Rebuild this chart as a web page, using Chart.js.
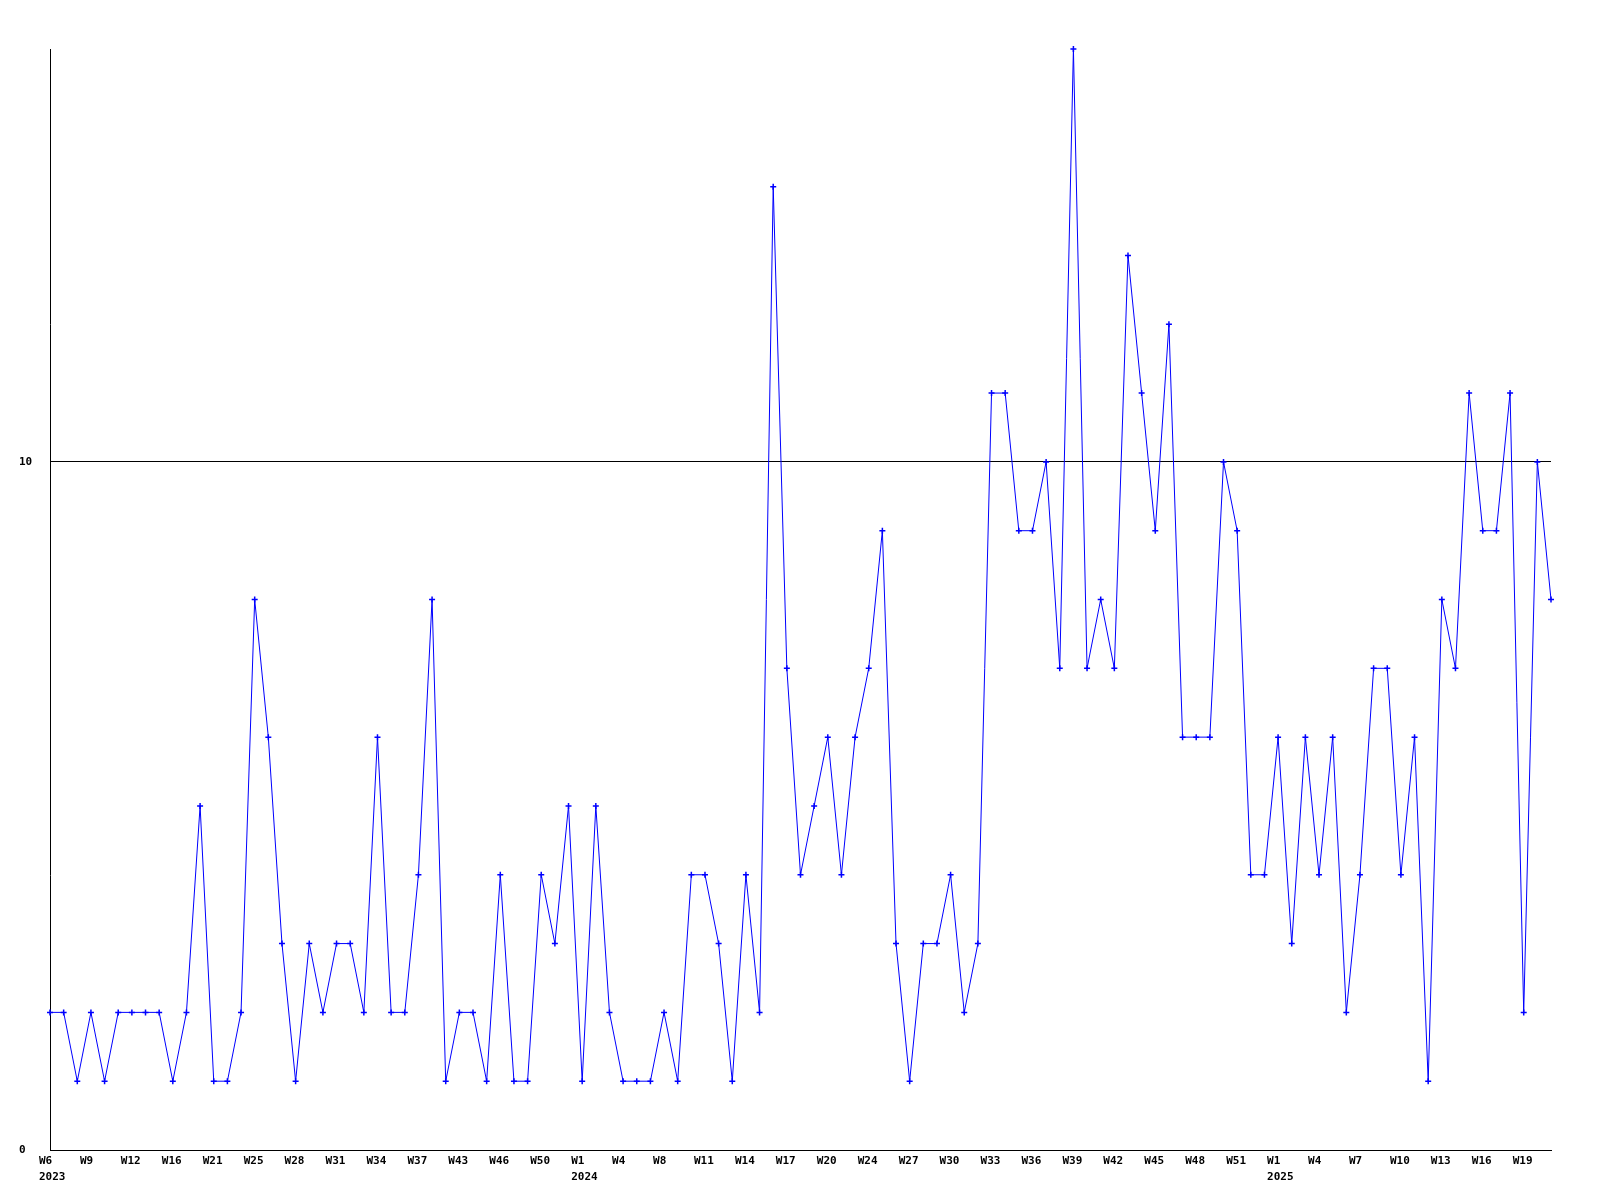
<!DOCTYPE html>
<html>
<head>
<meta charset="utf-8">
<script src="https://cdn.jsdelivr.net/npm/chart.js@4/dist/chart.umd.min.js"></script>
<style>
  body { margin: 0; background: #fff; }
  #wrap { width: 1600px; height: 1200px; }
</style>
</head>
<body>
<div id="wrap"><canvas id="weekChart" width="1600" height="1200"></canvas></div>
<script>
// valores semanais (um ponto por semana registrada)
const values = [
  2, 2, 1, 2, 1, 2, 2, 2, 2, 1, 2, 5, 1, 1, 2, 8, 6, 3, 1, 3,
  2, 3, 3, 2, 6, 2, 2, 4, 8, 1, 2, 2, 1, 4, 1, 1, 4, 3, 5, 1,
  5, 2, 1, 1, 1, 2, 1, 4, 4, 3, 1, 4, 2, 14, 7, 4, 5, 6, 4, 6,
  7, 9, 3, 1, 3, 3, 4, 2, 3, 11, 11, 9, 9, 10, 7, 16, 7, 8, 7, 13,
  11, 9, 12, 6, 6, 6, 10, 9, 4, 4, 6, 3, 6, 4, 6, 2, 4, 7, 7, 4,
  6, 1, 8, 7, 11, 9, 9, 11, 2, 10, 8
];

// rótulos do eixo X: um a cada 3 pontos
const weekTicks = [
  'W6', 'W9', 'W12', 'W16', 'W21', 'W25', 'W28', 'W31', 'W34', 'W37', 'W43', 'W46', 'W50',
  'W1', 'W4', 'W8', 'W11', 'W14', 'W17', 'W20', 'W24', 'W27', 'W30', 'W33', 'W36', 'W39',
  'W42', 'W45', 'W48', 'W51',
  'W1', 'W4', 'W7', 'W10', 'W13', 'W16', 'W19'
];
const yearTicks = [
  '2023', '', '', '', '', '', '', '', '', '', '', '', '',
  '2024', '', '', '', '', '', '', '', '', '', '', '', '',
  '', '', '', '',
  '2025', '', '', '', '', '', ''
];
const tickEvery = 3;
const yTicks = [0, 10];

const fontMono = { family: '"DejaVu Sans Mono", "Liberation Mono", monospace', size: 11, weight: 'bold', lineHeight: 1.45 };

const ctx = document.getElementById('weekChart').getContext('2d');
new Chart(ctx, {
  type: 'line',
  data: {
    labels: values.map((v, i) => i),
    datasets: [{
      data: values,
      borderColor: '#0000ff',
      backgroundColor: '#0000ff',
      borderWidth: 1,
      tension: 0,
      pointStyle: 'cross',
      pointRadius: 3,
      pointBorderWidth: 1.5,
      clip: false
    }]
  },
  options: {
    responsive: false,
    animation: false,
    layout: { padding: { top: 49, left: 19, right: 49, bottom: 0 } },
    plugins: { legend: { display: false }, tooltip: { enabled: false } },
    scales: {
      x: {
        type: 'category',
        offset: false,
        grid: { display: false, drawTicks: false },
        border: { display: true, color: '#000', width: 1 },
        afterFit: s => { s.height = 50; },
        ticks: {
          autoSkip: false,
          maxRotation: 0,
          minRotation: 0,
          align: 'start',
          labelOffset: -11,
          padding: 3,
          color: '#000',
          font: fontMono,
          callback: (val, i) => {
            if (i % tickEvery !== 0) return '';
            const k = i / tickEvery;
            return yearTicks[k] ? [weekTicks[k], yearTicks[k]] : weekTicks[k];
          }
        }
      },
      y: {
        min: 0,
        max: 16,
        grid: { color: '#000', lineWidth: 1, drawTicks: false },
        border: { display: true, color: '#000', width: 1 },
        afterBuildTicks: s => { s.ticks = yTicks.map(v => ({ value: v })); },
        afterFit: s => { s.width = 31; },
        ticks: {
          crossAlign: 'far',
          padding: 4,
          color: '#000',
          font: fontMono
        }
      }
    }
  },
  plugins: [{
    id: 'fundoBranco',
    beforeDraw: c => {
      const g = c.ctx;
      g.save();
      g.fillStyle = '#fff';
      g.fillRect(0, 0, c.width, c.height);
      g.restore();
    }
  }]
});
</script>
</body>
</html>
